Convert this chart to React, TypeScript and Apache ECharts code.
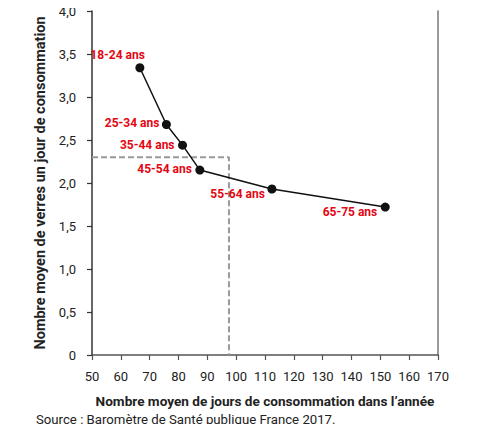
import React, { useEffect, useRef } from 'react'
import * as echarts from 'echarts'

// Nombre moyen de jours / verres par tranche d'âge
const ageGroups = ['18-24 ans', '25-34 ans', '35-44 ans', '45-54 ans', '55-64 ans', '65-75 ans']
const daysPerYear = [66.6, 75.8, 81.4, 87.4, 112.4, 151.7]
const glassesPerDay = [3.34, 2.68, 2.44, 2.15, 1.93, 1.72]

// moyenne 18-75 ans
const avgDays = 97.5
const avgGlasses = 2.3
const avgLabel = '18-75 ans : 98 jours - 2,3 verres'

// label offsets (px) relative to each dot, right-aligned text
const labelOffsets = [[5, -13], [-7, -2], [-8, 0], [-8, -1], [-7, 5], [-8, 5]]

const FONT = 'Roboto, "Liberation Sans", sans-serif'
const RED = '#e30613'
const BLUE = '#1b8bb5'

const fmtY = (v: number) => (v === 0 ? '0' : v.toFixed(1).replace('.', ','))

const App = () => {
  const ref = useRef<HTMLDivElement>(null)

  useEffect(() => {
    if (!ref.current) return
    const chart = echarts.init(ref.current, undefined, { renderer: 'svg' })

    const points = ageGroups.map((name, i) => ({
      name,
      value: [daysPerYear[i], glassesPerDay[i]],
      label: { offset: labelOffsets[i] }
    }))

    chart.setOption({
      animation: false,
      textStyle: { fontFamily: FONT },
      title: {
        text: 'Source : Baromètre de Santé publique France 2017.',
        left: 36,
        top: 413,
        padding: 0,
        textStyle: { fontFamily: FONT, fontSize: 13.2, fontWeight: 'normal', color: '#222' }
      },
      grid: { left: 92, right: 44, top: 11, bottom: 77, outerBoundsMode: 'none' },
      xAxis: {
        type: 'value',
        min: 50,
        max: 170,
        interval: 10,
        name: 'Nombre moyen de jours de consommation dans l\u2019année',
        nameLocation: 'middle',
        nameGap: 39,
        nameTextStyle: { fontFamily: FONT, fontSize: 13.6, fontWeight: 'bold', color: '#222' },
        axisLine: { show: true, onZero: false, lineStyle: { color: '#555', width: 1.5 } },
        axisTick: { show: true, length: 5, lineStyle: { color: '#555', width: 1.2 } },
        axisLabel: { margin: 15, fontFamily: FONT, fontSize: 13, color: '#222' },
        splitLine: { show: false }
      },
      yAxis: [
        {
          type: 'value',
          min: 0,
          max: 4,
          interval: 0.5,
          name: 'Nombre moyen de verres un jour de consommation',
          nameLocation: 'middle',
          nameGap: 37,
          nameTextStyle: { fontFamily: FONT, fontSize: 14.5, fontWeight: 'bold', color: '#222' },
          axisLine: { show: true, lineStyle: { color: '#333', width: 1.5 } },
          axisTick: { show: true, length: 5, lineStyle: { color: '#333', width: 1.2 } },
          axisLabel: { margin: 16, fontFamily: FONT, fontSize: 13, color: '#222', formatter: fmtY },
          splitLine: { show: false }
        },
        {
          type: 'value',
          min: 0,
          max: 4,
          interval: 0.5,
          position: 'right',
          axisLine: { show: true, lineStyle: { color: '#777', width: 1.5 } },
          axisTick: { show: false },
          axisLabel: { show: false },
          splitLine: { show: false }
        }
      ],
      series: [
        {
          type: 'line',
          name: 'moyenne',
          data: [
            [50, avgGlasses],
            {
              value: [avgDays, avgGlasses],
              label: {
                show: true,
                formatter: avgLabel,
                position: 'inside',
                align: 'left',
                verticalAlign: 'middle',
                offset: [7, -1],
                color: BLUE,
                fontFamily: FONT,
                fontSize: 12,
                fontWeight: 'bold'
              }
            },
            [avgDays, 0]
          ],
          showSymbol: false,
          symbol: 'none',
          lineStyle: { color: '#999', width: 2, type: [6, 3] },
          z: 1
        },
        {
          type: 'line',
          name: 'âges',
          data: points,
          symbol: 'circle',
          symbolSize: 9,
          itemStyle: { color: '#111' },
          lineStyle: { color: '#111', width: 1.5 },
          label: {
            show: true,
            formatter: '{b}',
            position: 'inside',
            align: 'right',
            verticalAlign: 'middle',
            color: RED,
            fontFamily: FONT,
            fontSize: 12,
            fontWeight: 'bold'
          },
          z: 3
        }
      ]
    })

    return () => chart.dispose()
  }, [])

  return <div ref={ref} style={{ width: 482, height: 432, margin: -8 }} />
}

export default App
